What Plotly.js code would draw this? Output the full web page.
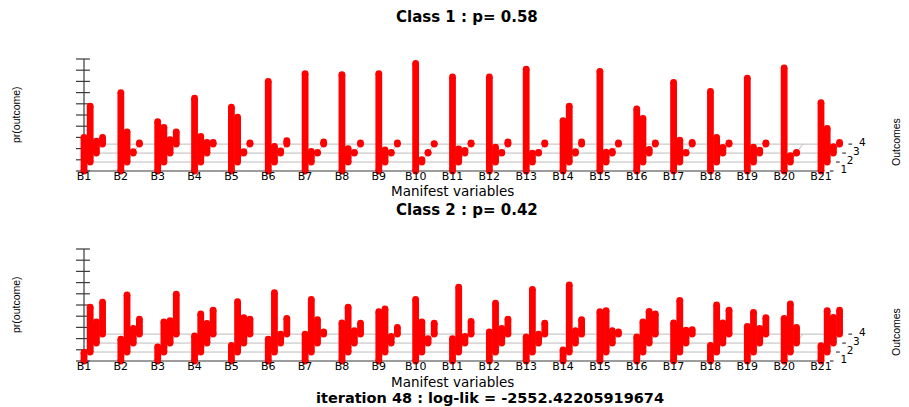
<!DOCTYPE html>
<html><head><meta charset="utf-8">
<script src="https://cdn.plot.ly/plotly-3.0.1.min.js"></script>
<style>html,body{margin:0;padding:0;background:#fff;}#chart{width:909px;height:407px;}</style>
</head><body><div id="chart"></div>
<script>
// ---------------- data ----------------
const categories = ['B1','B2','B3','B4','B5','B6','B7','B8','B9','B10','B11','B12','B13','B14','B15','B16','B17','B18','B19','B20','B21'];
const outcomeLabels = ['1','2','3','4'];

const class1Outcome1 = [0.30,0.70,0.44,0.65,0.57,0.80,0.87,0.86,0.87,0.96,0.84,0.84,0.91,0.45,0.89,0.555,0.79,0.71,0.83,0.92,0.61];
const class1Outcome2 = [0.50,0.27,0.31,0.23,0.40,0.14,0.096,0.12,0.108,0.022,0.117,0.132,0.08,0.50,0.088,0.39,0.195,0.22,0.132,0.058,0.30];
const class1Outcome3 = [0.107,0.013,0.12,0.095,0.013,0.02,0.005,0.005,0.005,0.005,0.025,0.005,0.005,0.013,0.015,0.033,0.005,0.05,0.027,0.005,0.057];
const class1Outcome4 = [0.06,0.01,0.11,0.015,0.01,0.03,0.02,0.01,0.01,0.005,0.01,0.02,0.01,0.02,0.01,0.01,0.015,0.01,0.01,0,0.015];

const class2Outcome1 = [0.076,0.195,0.127,0.225,0.14,0.195,0.24,0.34,0.44,0.55,0.20,0.26,0.216,0.10,0.44,0.216,0.34,0.14,0.31,0.38,0.136];
const class2Outcome2 = [0.40,0.51,0.27,0.34,0.45,0.53,0.47,0.40,0.385,0.27,0.58,0.436,0.56,0.60,0.37,0.27,0.46,0.42,0.355,0.43,0.37];
const class2Outcome3 = [0.19,0.13,0.20,0.176,0.227,0.08,0.21,0.11,0.06,0.04,0.06,0.13,0.08,0.11,0.11,0.283,0.116,0.18,0.13,0.14,0.23];
const class2Outcome4 = [0.286,0.134,0.357,0.214,0.134,0.14,0.02,0.098,0.06,0.098,0.113,0.134,0.098,0.13,0.02,0.18,0.04,0.214,0.146,0,0.214];

const classTitles = ['Class 1 : p= 0.58', 'Class 2 : p= 0.42'];
const iterationText = 'iteration 48 : log-lik = -2552.42205919674';
const xAxisLabel = 'Manifest variables';
const zAxisLabel = 'pr(outcome)';
const depthAxisLabel = 'Outcomes';
const zTickValues = [0,0.1,0.2,0.3,0.4,0.5,0.6,0.7,0.8,0.9,1];

// ---------------- geometry / style ----------------
const W = 909, H = 407;
const PX_PER_X = 36.85, X_ORIGIN_PX = 84;      // x=1 at 84px
const PX_PER_Z = 112;
const DEPTH_DX = 0.168, DEPTH_DZ = 0.08;        // oblique projection of outcome depth
const panels = [
  {top: 20, bottom: 200, base: 171, titleY: 17, xlab: 191, zlabY: 115, ylabY: 142},
  {top: 210, bottom: 390, base: 361, titleY: 210, xlab: 382, zlabY: 305, ylabY: 332}
];
const BAR_COLOR = '#ff0000';
const AXIS_COLOR = '#3a3a3a';
const GRID_COLOR = '#bdbdbd';

const classData = [
  [class1Outcome1, class1Outcome2, class1Outcome3, class1Outcome4],
  [class2Outcome1, class2Outcome2, class2Outcome3, class2Outcome4]
];

const xRange = [1 - X_ORIGIN_PX / PX_PER_X, 1 - X_ORIGIN_PX / PX_PER_X + W / PX_PER_X];
const nVar = categories.length;
const xPos = categories.map((c, i) => i + 1);

const traces = [];
const layout = {
  width: W, height: H,
  margin: {l: 0, r: 0, t: 0, b: 0},
  paper_bgcolor: '#fff', plot_bgcolor: 'rgba(0,0,0,0)',
  showlegend: false, hovermode: false,
  annotations: []
};

function seg(arrX, arrY, x0, y0, x1, y1) { arrX.push(x0, x1, null); arrY.push(y0, y1, null); }

panels.forEach((p, pi) => {
  const suf = pi === 0 ? '' : '2';
  const xa = 'x' + suf, ya = 'y' + suf;
  layout['xaxis' + suf] = {domain: [0, 1], range: xRange, visible: false, fixedrange: true, anchor: ya};
  layout['yaxis' + suf] = {
    domain: [1 - p.bottom / H, 1 - p.top / H],
    range: [(p.base - p.bottom) / PX_PER_Z, (p.base - p.top) / PX_PER_Z],
    visible: false, fixedrange: true, anchor: xa
  };
  const common = {xaxis: xa, yaxis: ya, cliponaxis: false, hoverinfo: 'skip', showlegend: false};
  const xFirst = xPos[0], xLast = xPos[nVar - 1];
  const nOut = outcomeLabels.length;

  // light grid in the outcome (depth) plane
  const gx = [], gy = [];
  for (let k = 1; k < nOut; k++) {
    seg(gx, gy, xFirst + k * DEPTH_DX, k * DEPTH_DZ, xLast + k * DEPTH_DX, k * DEPTH_DZ);
  }
  xPos.forEach(x => seg(gx, gy, x, 0, x + (nOut - 1) * DEPTH_DX, (nOut - 1) * DEPTH_DZ));
  traces.push(Object.assign({type: 'scatter', mode: 'lines', x: gx, y: gy, line: {color: GRID_COLOR, width: 1}}, common));

  // axes: baseline, z axis with ticks, depth ticks
  const ax = [], ay = [];
  seg(ax, ay, xFirst, 0, xLast + 0.08, 0);
  seg(ax, ay, xFirst, 0, xFirst, zTickValues[zTickValues.length - 1]);
  zTickValues.forEach(t => seg(ax, ay, xFirst - 0.217, t, xFirst + 0.16, t));
  outcomeLabels.forEach((o, k) => {
    const bx = xLast + k * DEPTH_DX, by = k * DEPTH_DZ;
    seg(ax, ay, bx + 0.24, by, bx + 0.34, by);
  });
  traces.push(Object.assign({type: 'scatter', mode: 'lines', x: ax, y: ay, line: {color: AXIS_COLOR, width: 1.2}}, common));

  // bars (type "h" lines with round ends), drawn back to front
  const bx = [], by = [];
  for (let k = nOut - 1; k >= 0; k--) {
    const vals = classData[pi][k];
    vals.forEach((v, i) => {
      if (!(v > 0)) return;
      const x = xPos[i] + k * DEPTH_DX, z0 = k * DEPTH_DZ;
      seg(bx, by, x, z0, x, z0 + v);
    });
  }
  traces.push(Object.assign({type: 'scatter', mode: 'lines+markers', x: bx, y: by,
    line: {color: BAR_COLOR, width: 6.8}, marker: {color: BAR_COLOR, size: 6.8, line: {width: 0}}}, common));

  // category labels
  traces.push(Object.assign({type: 'scatter', mode: 'text', x: xPos, y: xPos.map(() => -0.058), text: categories,
    textposition: 'middle center', textfont: {family: 'DejaVu Sans', size: 11, color: '#000'}}, common));
  // outcome labels
  traces.push(Object.assign({type: 'scatter', mode: 'text',
    x: outcomeLabels.map((o, k) => xLast + k * DEPTH_DX + 0.62),
    y: outcomeLabels.map((o, k) => k * DEPTH_DZ + 0.005),
    text: outcomeLabels, textposition: 'middle center',
    textfont: {family: 'DejaVu Sans', size: 10.5, color: '#000'}}, common));

  layout.annotations.push(
    {xref: 'paper', yref: 'paper', x: 467 / W, y: 1 - p.titleY / H, xanchor: 'center', yanchor: 'middle', showarrow: false,
     text: classTitles[pi], font: {family: 'DejaVu Sans', size: 15, weight: 'bold', color: '#000'}},
    {xref: 'paper', yref: 'paper', x: 452 / W, y: 1 - p.xlab / H, xanchor: 'center', yanchor: 'middle', showarrow: false,
     text: xAxisLabel, font: {family: 'DejaVu Sans', size: 13.5, color: '#000'}},
    {xref: 'paper', yref: 'paper', x: 16 / W, y: 1 - p.zlabY / H, xanchor: 'center', yanchor: 'middle', showarrow: false,
     textangle: -90, text: zAxisLabel, font: {family: 'Liberation Sans', size: 10.5, color: '#000'}},
    {xref: 'paper', yref: 'paper', x: 896 / W, y: 1 - p.ylabY / H, xanchor: 'center', yanchor: 'middle', showarrow: false,
     textangle: -90, text: depthAxisLabel, font: {family: 'Liberation Sans', size: 10.5, color: '#000'}}
  );
});

layout.annotations.push({xref: 'paper', yref: 'paper', x: 490 / W, y: 1 - 398 / H, xanchor: 'center', yanchor: 'middle',
  showarrow: false, text: iterationText, font: {family: 'DejaVu Sans', size: 14.5, weight: 'bold', color: '#000'}});

Plotly.newPlot('chart', traces, layout, {staticPlot: true, displayModeBar: false});
</script>
</body></html>
